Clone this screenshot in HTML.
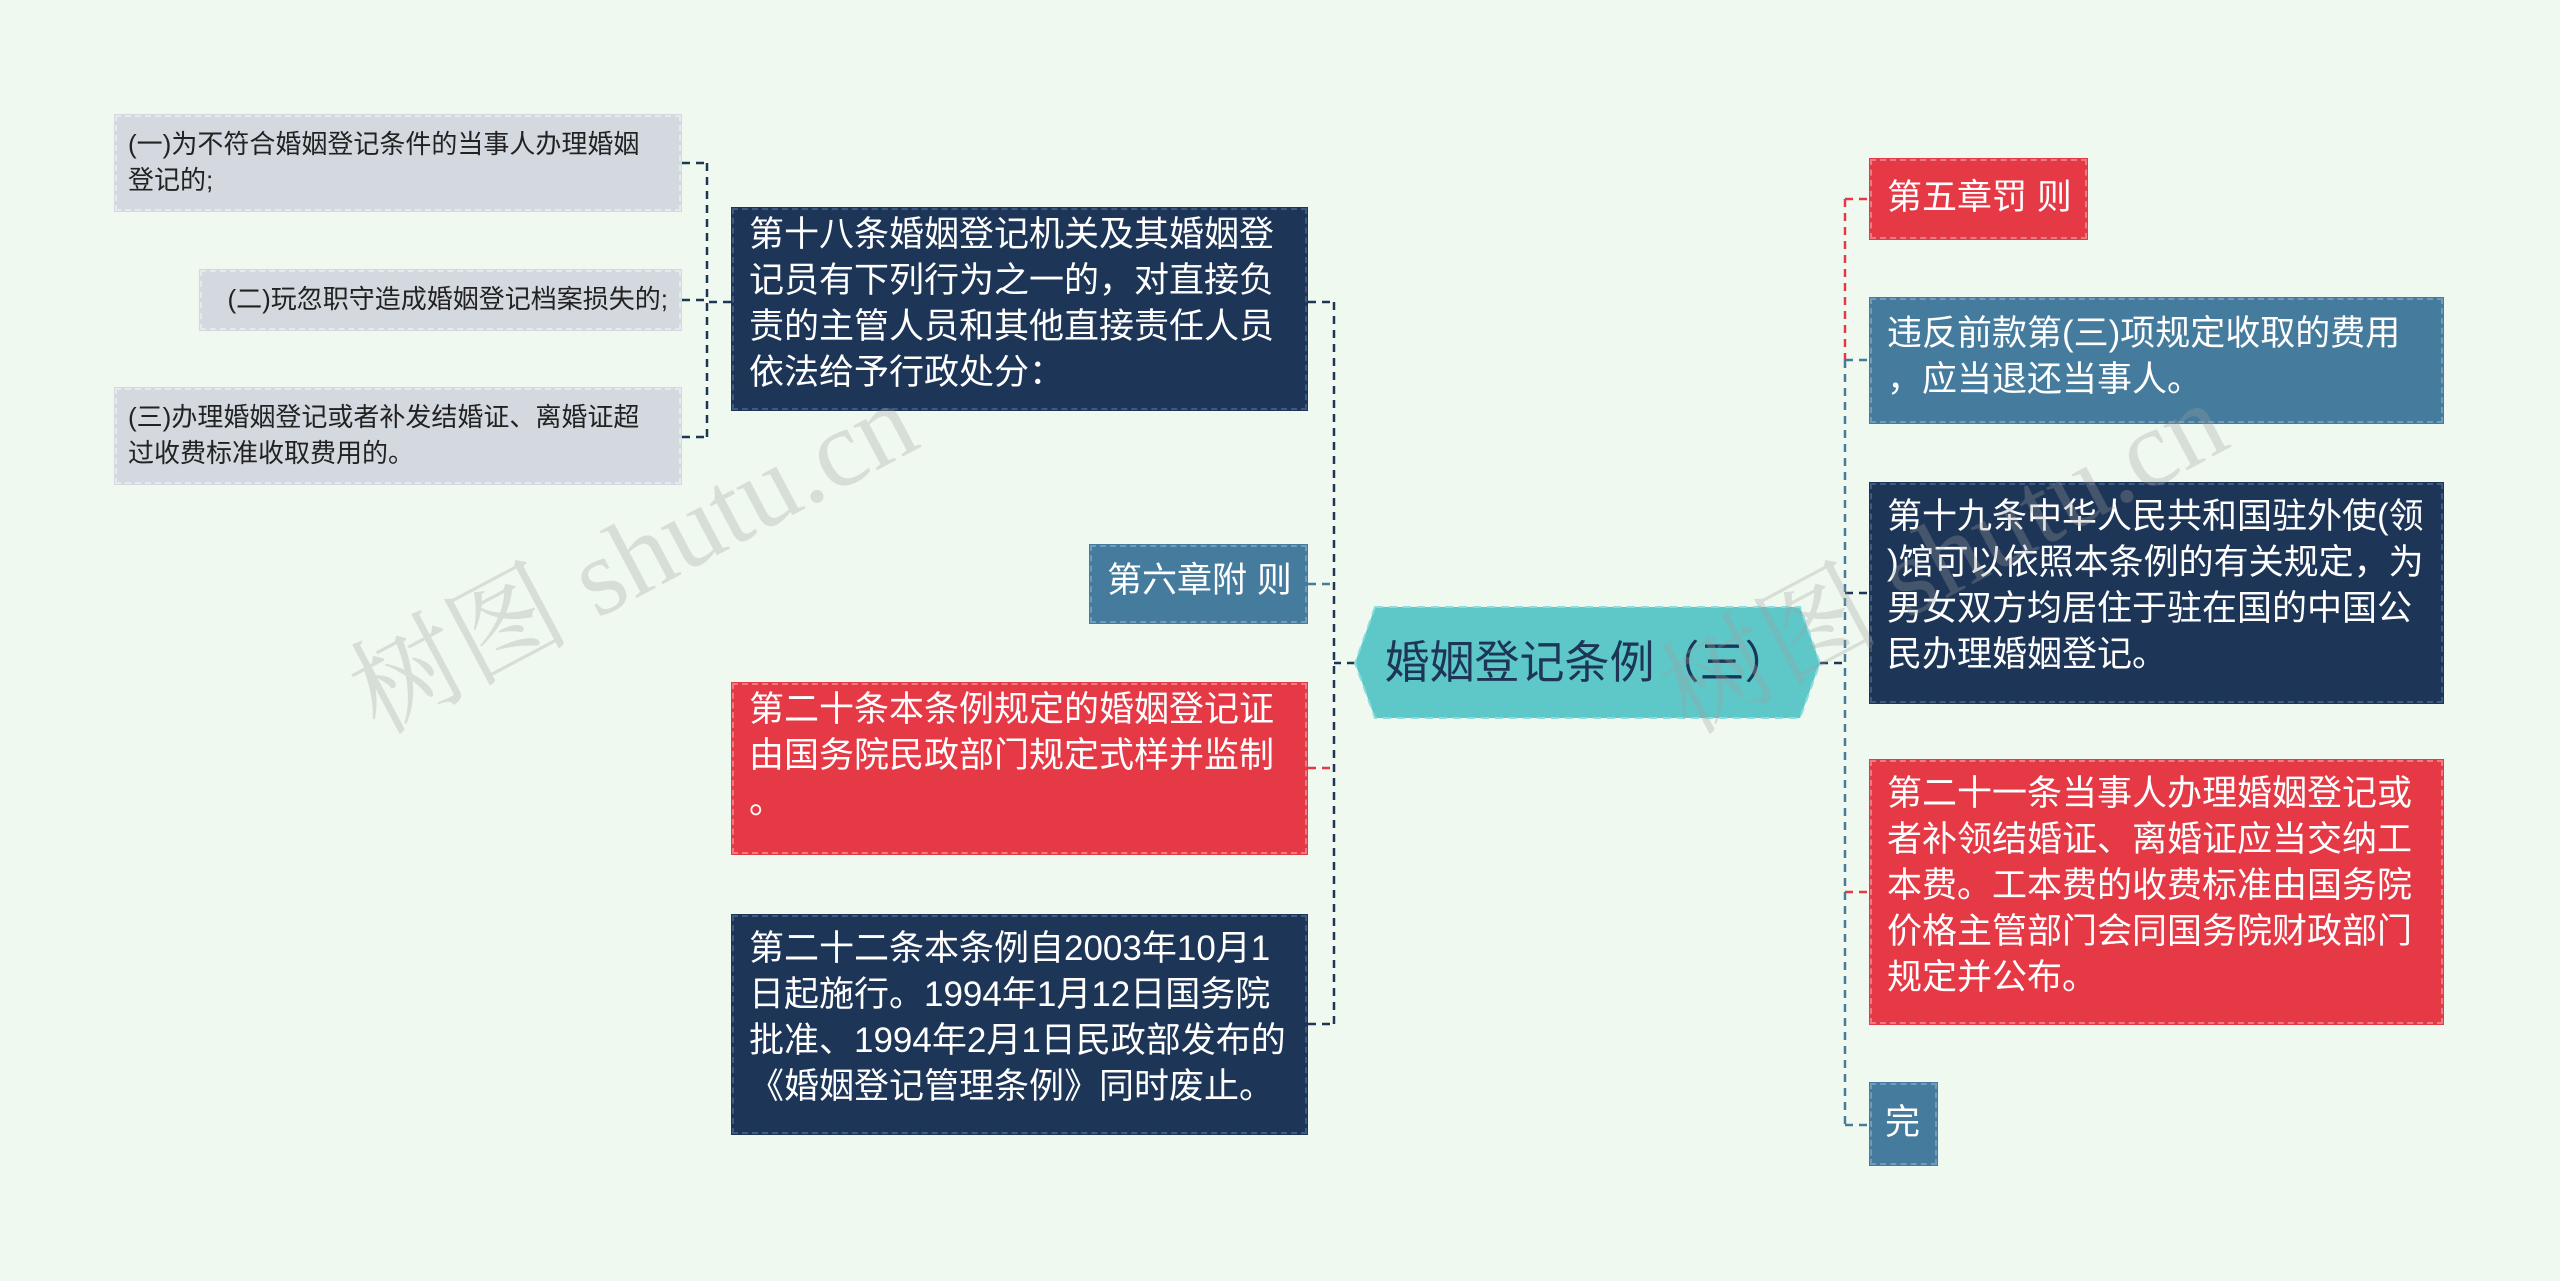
<!DOCTYPE html>
<html><head><meta charset="utf-8"><style>
html,body{margin:0;padding:0}
body{width:2560px;height:1281px;background:#f0f9ef;position:relative;overflow:hidden;font-family:"Liberation Sans","Noto Sans CJK SC",sans-serif}
.n{position:absolute;box-sizing:border-box;color:#fff;font-size:35px;line-height:46px;padding:5px 18px;white-space:nowrap}
.navy{background:#1d3557;outline:2px dashed #3e5a82;outline-offset:-3px}
.red{background:#e63946;outline:2px dashed #f07a84;outline-offset:-3px}
.blue{background:#457b9d;outline:2px dashed #6f9cbb;outline-offset:-3px}
.grey{background:#d4d9e0;color:#222;font-size:26px;line-height:36px;padding:12px 14px;outline:2px dashed #e6e9ee;outline-offset:-3px}
.wm{position:absolute;font-family:"Liberation Serif","Noto Serif CJK SC",serif;font-size:110px;color:rgba(160,160,160,0.3);transform:rotate(-28deg);white-space:nowrap}
</style></head><body>
<svg width="2560" height="1281" style="position:absolute;left:0;top:0" fill="none" stroke-width="2.5" stroke-dasharray="8,6">
<path d="M1355 663 H1334" stroke="#1d3557"/>
<path d="M1334 302 V1024" stroke="#1d3557"/>
<path d="M1308 302 H1334" stroke="#1d3557"/>
<path d="M1308 584 H1334" stroke="#457b9d"/>
<path d="M1308 768 H1334" stroke="#e63946"/>
<path d="M1308 1024 H1334" stroke="#1d3557"/>
<path d="M731 302 H707" stroke="#1d3557"/>
<path d="M707 163 V437" stroke="#1d3557"/>
<path d="M682 163 H707 M682 300 H707 M682 437 H707" stroke="#1d3557"/>
<path d="M1820 663 H1845" stroke="#1d3557"/>
<path d="M1845 199 V360" stroke="#e63946"/>
<path d="M1845 360 V1125" stroke="#457b9d"/>
<path d="M1845 199 H1869" stroke="#e63946"/>
<path d="M1845 360 H1869" stroke="#457b9d"/>
<path d="M1845 593 H1869" stroke="#1d3557"/>
<path d="M1845 892 H1869" stroke="#e63946"/>
<path d="M1845 1125 H1869" stroke="#457b9d"/>
</svg>
<svg width="2560" height="1281" style="position:absolute;left:0;top:0">
<polygon points="1375,607 1800,607 1820,663 1800,718 1375,718 1355,663" fill="#5ec8c9" stroke="#8fdcdc" stroke-width="2" stroke-dasharray="8,6"/>
<text x="1587" y="678" text-anchor="middle" font-size="45" fill="#1d3557" font-family="Liberation Sans, Noto Sans CJK SC, sans-serif">婚姻登记条例（三）</text>
</svg>

<div class="n grey" style="left:114px;top:114px;width:568px;height:98px">(一)为不符合婚姻登记条件的当事人办理婚姻<br>登记的;</div>
<div class="n grey" style="left:199px;top:269px;width:483px;height:62px;text-align:right;padding-top:12px">(二)玩忽职守造成婚姻登记档案损失的;</div>
<div class="n grey" style="left:114px;top:387px;width:568px;height:98px">(三)办理婚姻登记或者补发结婚证、离婚证超<br>过收费标准收取费用的。</div>

<div class="n navy" style="left:731px;top:207px;width:577px;height:204px">第十八条婚姻登记机关及其婚姻登<br>记员有下列行为之一的，对直接负<br>责的主管人员和其他直接责任人员<br>依法给予行政处分：</div>
<div class="n blue" style="left:1089px;top:544px;width:219px;height:80px;padding-top:14px">第六章附 则</div>
<div class="n red" style="left:731px;top:682px;width:577px;height:173px">第二十条本条例规定的婚姻登记证<br>由国务院民政部门规定式样并监制<br>。</div>
<div class="n navy" style="left:731px;top:914px;width:577px;height:221px;padding-top:12px">第二十二条本条例自2003年10月1<br>日起施行。1994年1月12日国务院<br>批准、1994年2月1日民政部发布的<br>《婚姻登记管理条例》同时废止。</div>

<div class="n red" style="left:1869px;top:158px;width:219px;height:82px;padding-top:17px">第五章罚 则</div>
<div class="n blue" style="left:1869px;top:297px;width:575px;height:127px;padding-top:14px">违反前款第(三)项规定收取的费用<br>，应当退还当事人。</div>
<div class="n navy" style="left:1869px;top:482px;width:575px;height:222px;padding-top:12px">第十九条中华人民共和国驻外使(领<br>)馆可以依照本条例的有关规定，为<br>男女双方均居住于驻在国的中国公<br>民办理婚姻登记。</div>
<div class="n red" style="left:1869px;top:759px;width:575px;height:266px;padding-top:12px">第二十一条当事人办理婚姻登记或<br>者补领结婚证、离婚证应当交纳工<br>本费。工本费的收费标准由国务院<br>价格主管部门会同国务院财政部门<br>规定并公布。</div>
<div class="n blue" style="left:1869px;top:1082px;width:69px;height:84px;padding-top:18px;padding-left:16px">完</div>

<div class="wm" style="left:320px;top:470px">树图 shutu.cn</div>
<div class="wm" style="left:1630px;top:470px">树图 shutu.cn</div>
</body></html>
